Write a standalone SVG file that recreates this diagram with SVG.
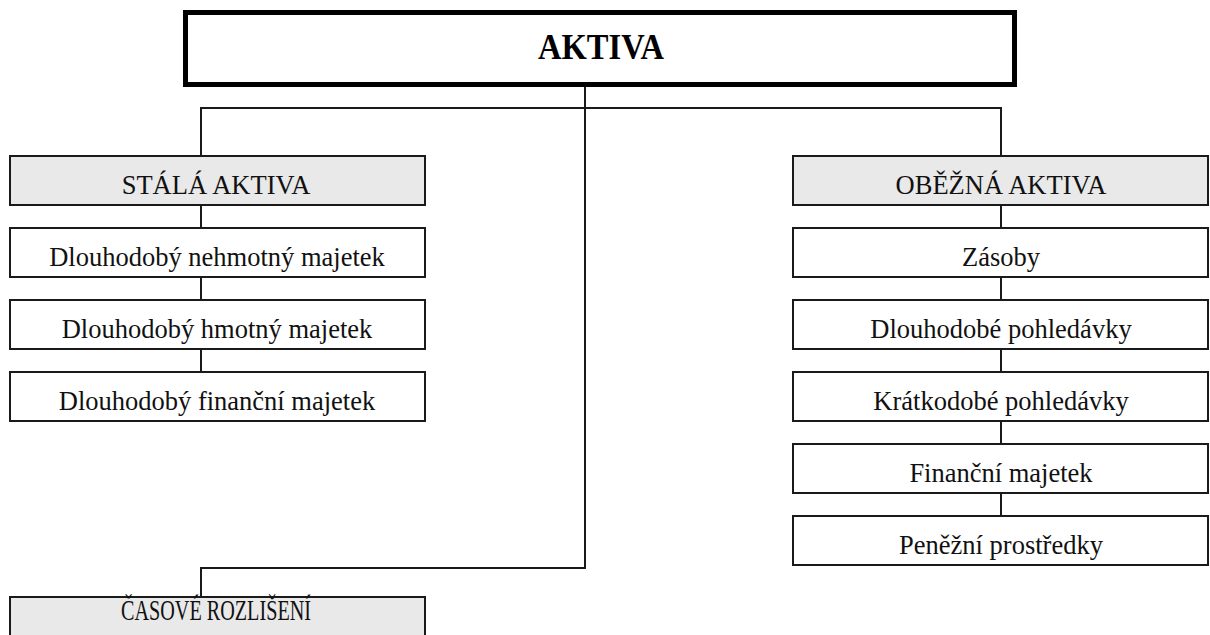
<svg xmlns="http://www.w3.org/2000/svg" width="1210" height="635" viewBox="0 0 1210 635">
<style>
.box{fill:#ffffff;stroke:#1a1a1a;stroke-width:2}
.hdr{fill:#e9e9e9;stroke:#1a1a1a;stroke-width:2}
.main{fill:#ffffff;stroke:#000000;stroke-width:5}
.t{font-family:"Liberation Serif","Times New Roman",serif;font-size:26.5px;fill:#111;text-anchor:middle}
.tb{font-family:"Liberation Serif","Times New Roman",serif;font-size:35px;font-weight:bold;fill:#000;text-anchor:middle}
.c{fill:none;stroke:#1a1a1a;stroke-width:2}
</style>
<rect width="1210" height="635" fill="#ffffff"/>
<g id="connectors">
<path class="c" d="M585,87 V568 H201 V597"/>
<path class="c" d="M201,156 V108 H1001 V156"/>
<path class="c" d="M201,205 V228 M201,277 V300 M201,349 V372"/>
<path class="c" d="M1001,205 V228 M1001,277 V300 M1001,349 V372 M1001,421 V444 M1001,493 V516"/>
</g>
<g id="aktiva"><rect class="main" x="185.5" y="12.5" width="829" height="72"/><text class="tb" x="601" y="59" textLength="126" lengthAdjust="spacingAndGlyphs">AKTIVA</text></g>
<g id="stala"><rect class="hdr" x="10" y="156" width="415" height="49"/><text class="t" x="216" y="194">STÁLÁ AKTIVA</text></g>
<g id="nehmotny"><rect class="box" x="10" y="228" width="415" height="49"/><text class="t" x="217" y="266">Dlouhodobý nehmotný majetek</text></g>
<g id="hmotny"><rect class="box" x="10" y="300" width="415" height="49"/><text class="t" x="217" y="338">Dlouhodobý hmotný majetek</text></g>
<g id="financni-dl"><rect class="box" x="10" y="372" width="415" height="49"/><text class="t" x="217" y="410">Dlouhodobý finanční majetek</text></g>
<g id="obezna"><rect class="hdr" x="793" y="156" width="415" height="49"/><text class="t" x="1001" y="194">OBĚŽNÁ AKTIVA</text></g>
<g id="zasoby"><rect class="box" x="793" y="228" width="415" height="49"/><text class="t" x="1001" y="266">Zásoby</text></g>
<g id="dl-pohl"><rect class="box" x="793" y="300" width="415" height="49"/><text class="t" x="1001" y="338">Dlouhodobé pohledávky</text></g>
<g id="kr-pohl"><rect class="box" x="793" y="372" width="415" height="49"/><text class="t" x="1001" y="410">Krátkodobé pohledávky</text></g>
<g id="fin-maj"><rect class="box" x="793" y="444" width="415" height="49"/><text class="t" x="1001" y="482">Finanční majetek</text></g>
<g id="penezni"><rect class="box" x="793" y="516" width="415" height="49"/><text class="t" x="1001" y="554">Peněžní prostředky</text></g>
<g id="casove"><rect class="hdr" x="10" y="597" width="415" height="49"/><text class="t" x="216" y="620" style="font-size:29px" textLength="190" lengthAdjust="spacingAndGlyphs">ČASOVÉ ROZLIŠENÍ</text></g>
</svg>
